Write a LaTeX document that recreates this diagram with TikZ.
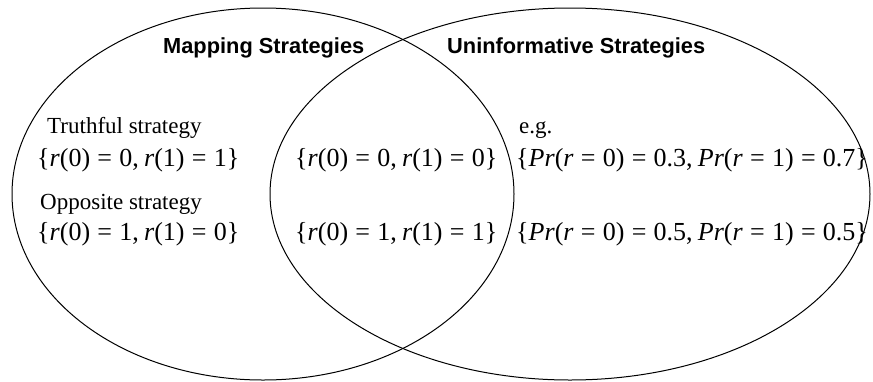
\documentclass[tikz,border=0pt]{standalone}
\usepackage{fontspec}
\setmainfont{Liberation Serif}
\newfontfamily\headfont{Liberation Sans}
\usetikzlibrary{shapes.geometric}
\newcommand{\meq}{\hspace{0.28em}=\hspace{0.28em}}
\newcommand{\mcm}{,\hspace{0.2em}}
\begin{document}
\begin{tikzpicture}[x=1pt,y=-1pt,
  venn/.style={draw, ellipse, line width=1pt, inner sep=0pt, outer sep=0pt},
  head/.style={anchor=base west, inner sep=0pt, font=\headfont\bfseries\fontsize{21.8}{24}\selectfont},
  lbl/.style={anchor=base west, inner sep=0pt, font=\fontsize{23}{26}\selectfont},
  frm/.style={anchor=base west, inner sep=0pt, font=\fontsize{26}{29}\selectfont}]
\useasboundingbox (0,0) rectangle (873,381);
\node[venn, minimum width=502pt, minimum height=372pt] (L) at (263,194) {};
\node[venn, minimum width=600pt, minimum height=372pt] (R) at (570,194) {};
\node[head] (mh) at (163,53) {Mapping Strategies};
\node[head] (uh) at (447,53) {Uninformative Strategies};
\node[lbl] (tl) at (47,133) {Truthful strategy};
\node[frm] (tf) at (37,166) {\{\textit{r}(0)\meq 0\mcm\textit{r}(1)\meq 1\}};
\node[lbl] (ol) at (40,209) {Opposite strategy};
\node[frm] (of) at (37,240) {\{\textit{r}(0)\meq 1\mcm\textit{r}(1)\meq 0\}};
\node[frm] (m1) at (295,166) {\{\textit{r}(0)\meq 0\mcm\textit{r}(1)\meq 0\}};
\node[frm] (m2) at (295,240) {\{\textit{r}(0)\meq 1\mcm\textit{r}(1)\meq 1\}};
\node[lbl] (eg) at (519,133) {e.g.};
\node[frm] (p1) at (516,166) {\{\textit{Pr}(\textit{r}\meq 0)\meq 0.3\mcm\textit{Pr}(\textit{r}\meq 1)\meq 0.7\}};
\node[frm] (p2) at (516,240) {\{\textit{Pr}(\textit{r}\meq 0)\meq 0.5\mcm\textit{Pr}(\textit{r}\meq 1)\meq 0.5\}};
\end{tikzpicture}
\end{document}
